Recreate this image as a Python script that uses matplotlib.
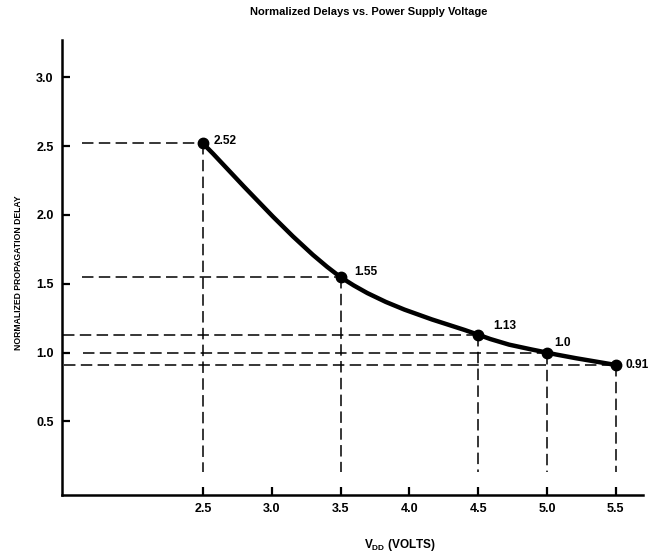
import numpy as np
import matplotlib
matplotlib.use("Agg")
import matplotlib.pyplot as plt
from matplotlib.path import Path
from matplotlib.patches import PathPatch

plt.rcParams['font.family'] = ['Liberation Sans', 'DejaVu Sans']
plt.rcParams['mathtext.fontset'] = 'custom'
plt.rcParams['mathtext.bf'] = 'Liberation Sans:bold'
plt.rcParams['mathtext.rm'] = 'Liberation Sans:bold'

# data
vdd = [2.5, 3.5, 4.5, 5.0, 5.5]
delay = [2.52, 1.55, 1.13, 1.0, 0.91]
point_labels = ['2.52', '1.55', '1.13', '1.0', '0.91']
xticks = [2.5, 3.0, 3.5, 4.0, 4.5, 5.0, 5.5]
yticks = [0.5, 1.0, 1.5, 2.0, 2.5, 3.0]

fig = plt.figure(figsize=(6.51, 5.59), dpi=100)
ax = fig.add_axes([0.0952, 0.1145, 0.893, 0.8135])
ax.set_xlim(1.476, 5.70)
ax.set_ylim(-0.035, 3.27)

# guide lines
hstart = [1.62, 1.62, 1.48, 1.63, 1.49]
for x, y, h0 in zip(vdd, delay, hstart):
    ax.plot([h0, x], [y, y], color='black', lw=1.1, dashes=(7.5, 3.5))
    ax.plot([x, x], [y, 0.13], color='black', lw=1.1, dashes=(7.5, 3.5))

# smooth curve through the points (catmull-rom -> bezier)
pts = np.column_stack([vdd, delay])
ext = np.vstack([pts[0], pts, pts[-1]])
verts = [tuple(pts[0])]
codes = [Path.MOVETO]
for i in range(1, len(ext) - 2):
    p0, p1, p2, p3 = ext[i - 1], ext[i], ext[i + 1], ext[i + 2]
    c1 = p1 + (p2 - p0) / 6
    c2 = p2 - (p3 - p1) / 6
    verts += [tuple(c1), tuple(c2), tuple(p2)]
    codes += [Path.CURVE4] * 3
ax.add_patch(PathPatch(Path(verts, codes), fill=False, lw=3.2, color='black',
                       capstyle='round'))
ax.plot(vdd, delay, 'o', color='black', ms=7.5)

offsets = [(11, 2), (14, 5), (15, 9), (7, 10), (10, 0)]
for x, y, t, off in zip(vdd, delay, point_labels, offsets):
    ax.annotate(t, (x, y), xytext=off, textcoords='offset pixels',
                fontsize=8.6, fontweight='bold', ha='left', va='center')

for s in ['top', 'right']:
    ax.spines[s].set_visible(False)
for s in ['left', 'bottom']:
    ax.spines[s].set_linewidth(1.8)
ax.set_xticks(xticks)
ax.set_yticks(yticks)
ax.set_xticklabels([f'{v:.1f}' for v in xticks])
ax.set_yticklabels([f'{v:.1f}' for v in yticks])
ax.tick_params(direction='in', length=6, width=1.6, labelsize=9, pad=6)
for lab in ax.get_xticklabels() + ax.get_yticklabels():
    lab.set_fontweight('bold')

fig.text(0.567, 0.978, 'Normalized Delays vs. Power Supply Voltage',
         ha='center', va='center', fontsize=8, fontweight='bold')
fig.text(0.614, 0.025, r'V$_{\mathbf{DD}}$ (VOLTS)', ha='center', va='center',
         fontsize=8.5, fontweight='bold')
fig.text(0.028, 0.513, 'NORMALIZED PROPAGATION DELAY', rotation=90,
         ha='center', va='center', fontsize=6.2, fontweight='bold')

fig.savefig('out.png', dpi=100)
